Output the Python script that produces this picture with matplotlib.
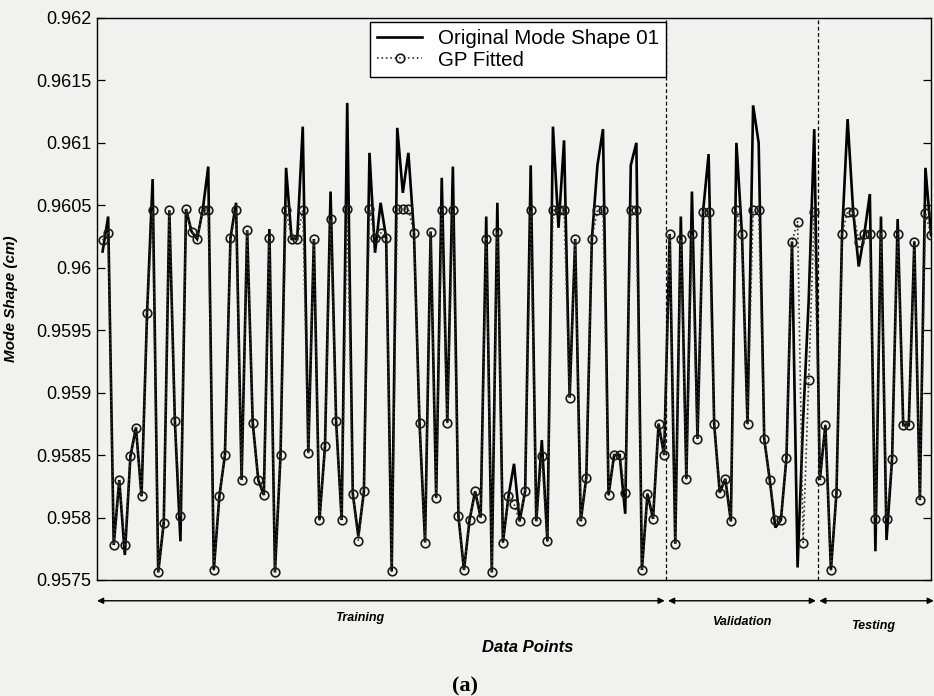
import matplotlib
matplotlib.use('Agg')
import matplotlib.pyplot as plt
import numpy as np
from matplotlib.ticker import FuncFormatter

# ---------------- data ----------------
gp_fitted = [
    0.96022, 0.96028, 0.95778, 0.95830, 0.95778, 0.95849, 0.95872, 0.95817, 0.95964, 0.96046,
    0.95756, 0.95796, 0.96046, 0.95877, 0.95801, 0.96047, 0.96029, 0.96023, 0.96046, 0.96046,
    0.95758, 0.95817, 0.95850, 0.96024, 0.96046, 0.95830, 0.96030, 0.95876, 0.95830, 0.95818,
    0.96024, 0.95756, 0.95850, 0.96046, 0.96023, 0.96023, 0.96046, 0.95852, 0.96023, 0.95798,
    0.95857, 0.96039, 0.95877, 0.95798, 0.96047, 0.95819, 0.95781, 0.95821, 0.96047, 0.96024,
    0.96028, 0.96024, 0.95757, 0.96047, 0.96047, 0.96047, 0.96028, 0.95876, 0.95780, 0.96029,
    0.95816, 0.96046, 0.95876, 0.96046, 0.95801, 0.95758, 0.95798, 0.95821, 0.95800, 0.96023,
    0.95756, 0.96029, 0.95780, 0.95817, 0.95811, 0.95797, 0.95821, 0.96046, 0.95797, 0.95849,
    0.95781, 0.96046, 0.96046, 0.96046, 0.95896, 0.96023, 0.95797, 0.95832, 0.96023, 0.96046,
    0.96046, 0.95818, 0.95850, 0.95850, 0.95820, 0.96046, 0.96046, 0.95758, 0.95819, 0.95799,
    0.95875, 0.95850, 0.96027, 0.95779, 0.96023, 0.95831, 0.96027, 0.95863, 0.96045, 0.96045,
    0.95875, 0.95820, 0.95831, 0.95797, 0.96046, 0.96027, 0.95875, 0.96046, 0.96046, 0.95863,
    0.95830, 0.95798, 0.95798, 0.95848, 0.96021, 0.96037, 0.95780, 0.95910, 0.96045, 0.95830,
    0.95874, 0.95758, 0.95820, 0.96027, 0.96045, 0.96045, 0.96021, 0.96027, 0.96027, 0.95799,
    0.96027, 0.95799, 0.95847, 0.96027, 0.95874, 0.95874, 0.96021, 0.95814, 0.96044, 0.96026,
]

original = [
    0.96013, 0.96041, 0.95778, 0.95830, 0.95770, 0.95849, 0.95872, 0.95817, 0.95964, 0.96071,
    0.95756, 0.95796, 0.96046, 0.95877, 0.95781, 0.96047, 0.96029, 0.96023, 0.96046, 0.96081,
    0.95758, 0.95817, 0.95850, 0.96024, 0.96052, 0.95830, 0.96030, 0.95876, 0.95830, 0.95818,
    0.96031, 0.95756, 0.95850, 0.96080, 0.96023, 0.96023, 0.96113, 0.95852, 0.96023, 0.95798,
    0.95857, 0.96061, 0.95877, 0.95798, 0.96132, 0.95819, 0.95785, 0.95821, 0.96092, 0.96012,
    0.96052, 0.96024, 0.95757, 0.96112, 0.96060, 0.96092, 0.96028, 0.95876, 0.95780, 0.96029,
    0.95816, 0.96072, 0.95876, 0.96081, 0.95801, 0.95758, 0.95798, 0.95821, 0.95800, 0.96041,
    0.95756, 0.96052, 0.95780, 0.95817, 0.95843, 0.95797, 0.95821, 0.96082, 0.95797, 0.95862,
    0.95781, 0.96113, 0.96032, 0.96102, 0.95896, 0.96023, 0.95797, 0.95832, 0.96023, 0.96082,
    0.96111, 0.95818, 0.95850, 0.95850, 0.95803, 0.96082, 0.96100, 0.95758, 0.95819, 0.95799,
    0.95875, 0.95850, 0.96027, 0.95779, 0.96041, 0.95831, 0.96061, 0.95863, 0.96045, 0.96091,
    0.95875, 0.95820, 0.95831, 0.95797, 0.96100, 0.96027, 0.95875, 0.96130, 0.96100, 0.95863,
    0.95830, 0.95792, 0.95798, 0.95848, 0.96021, 0.95760, 0.95878, 0.95974, 0.96111, 0.95830,
    0.95874, 0.95758, 0.95820, 0.96027, 0.96119, 0.96045, 0.96001, 0.96027, 0.96059, 0.95773,
    0.96041, 0.95782, 0.95847, 0.96039, 0.95874, 0.95874, 0.96021, 0.95814, 0.96080, 0.96026,
]

data_points = np.arange(1, len(gp_fitted) + 1)
split_validation = 102.4
split_testing = 129.6
x_end = 150.5
yticks = [0.9575, 0.958, 0.9585, 0.959, 0.9595, 0.96, 0.9605, 0.961, 0.9615, 0.962]
phase_labels = ['Training', 'Validation', 'Testing']

# ---------------- figure ----------------
plt.rcParams['font.family'] = ['Liberation Sans', 'DejaVu Sans']
bg = '#f1f1ef'
fig = plt.figure(figsize=(9.34, 6.96), dpi=100, facecolor=bg)
ax = fig.add_axes([0.1039, 0.1667, 0.8929, 0.8075])
ax.set_facecolor(bg)

ax.plot(data_points, original, color='black', lw=1.9, solid_joinstyle='miter',
        label='Original Mode Shape 01', zorder=3)
ax.plot(data_points, gp_fitted, linestyle=':', color='#333333', lw=1.2,
        marker='o', ms=6.2, mfc='none', mec='#1a1a1a', mew=1.2,
        label='GP Fitted', zorder=4)

for xb in (split_validation, split_testing):
    ax.axvline(xb, color='black', lw=0.9, linestyle=(0, (3, 2)), zorder=2)

ax.set_xlim(0, 150)
ax.set_ylim(0.9575, 0.962)
ax.set_yticks(yticks)
ax.yaxis.set_major_formatter(FuncFormatter(lambda v, p: f'{v:g}'))
ax.set_xticks([])
ax.tick_params(axis='y', direction='in', length=6, width=0.9, right=True,
               labelsize=13, pad=4)
for s in ax.spines.values():
    s.set_linewidth(1.0)
    s.set_color('black')

ax.set_ylabel('Mode Shape (cm)', fontsize=11, fontweight='bold', fontstyle='italic')
ax.yaxis.set_label_coords(-0.095, 0.5)

leg = ax.legend(loc='upper left', bbox_to_anchor=(0.327, 0.993), fontsize=14.8,
                frameon=True, fancybox=False, edgecolor='black', facecolor='white',
                framealpha=1, borderpad=0.35, labelspacing=0.12, handlelength=2.2,
                handletextpad=0.75, borderaxespad=0)
leg.get_frame().set_linewidth(1.0)

# phase arrows below the axes
trans = ax.get_xaxis_transform()
arrow_y = -0.037
segments = [(0, split_validation - 0.3), (split_validation + 0.3, split_testing - 0.3),
            (split_testing + 0.3, x_end)]
for (x0, x1) in segments:
    ax.annotate('', xy=(x1, arrow_y), xytext=(x0, arrow_y), xycoords=trans,
                textcoords=trans, annotation_clip=False,
                arrowprops=dict(arrowstyle='<|-|>', color='black', lw=1.0,
                                mutation_scale=9, shrinkA=0, shrinkB=0))

label_pos = [(0.315, -0.067), (0.774, -0.075), (0.930, -0.082)]
for lab, (fx, fy) in zip(phase_labels, label_pos):
    ax.text(fx, fy, lab, transform=ax.transAxes, ha='center', va='center',
            fontsize=9, fontweight='bold', fontstyle='italic')

ax.text(0.516, -0.121, 'Data Points', transform=ax.transAxes, ha='center', va='center',
        fontsize=12, fontweight='bold', fontstyle='italic')
ax.text(0.441, -0.190, '(a)', transform=ax.transAxes, ha='center', va='center',
        fontsize=16, fontweight='bold', family=['Liberation Serif', 'DejaVu Serif'])

fig.savefig('out.png', dpi=100, facecolor=bg)
